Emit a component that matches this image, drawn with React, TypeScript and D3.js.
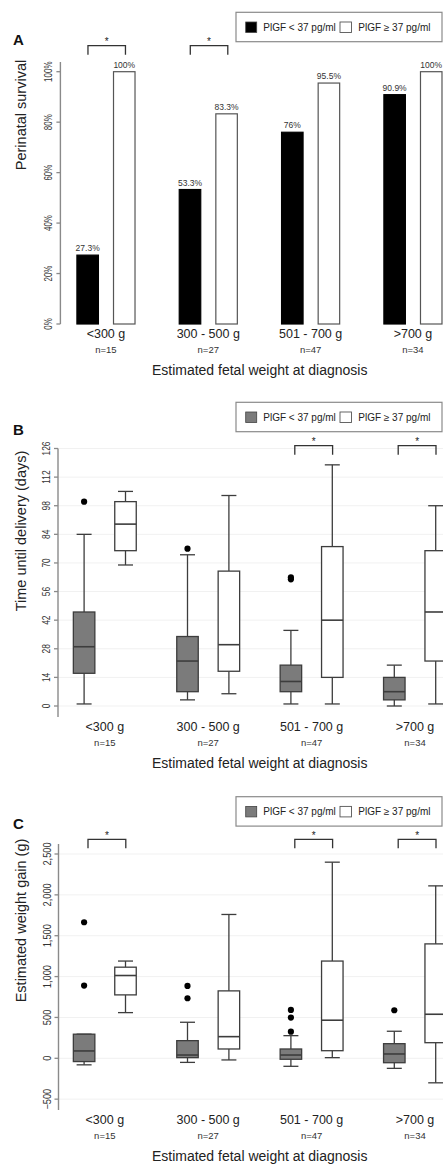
import React from 'react';
import * as d3 from 'd3';

// Shared categories
const categories = ['<300 g', '300 - 500 g', '501 - 700 g', '>700 g'];
const groupSizes = ['n=15', 'n=27', 'n=47', 'n=34'];
const series = ['low', 'high'];
const legendLabels = ['PlGF < 37 pg/ml', 'PlGF \u2265 37 pg/ml'];
const xTitle = 'Estimated fetal weight at diagnosis';

// Panel A: perinatal survival (%)
const survivalLow = [27.3, 53.3, 76, 90.9];
const survivalHigh = [100, 83.3, 95.5, 100];
const survivalLabels = [['27.3%', '100%'], ['53.3%', '83.3%'], ['76%', '95.5%'], ['90.9%', '100%']];
const survivalSig = [true, true, false, false];
const survivalTicks = [0, 20, 40, 60, 80, 100];

// Panel B: time until delivery (days), [min, q1, median, q3, max]
const deliveryLow = [[1, 16, 29, 46, 84], [3, 7, 22, 34, 74], [1, 7, 12, 20, 37], [0, 3, 7, 14, 20]];
const deliveryLowOut = [[100], [77], [62, 63], []];
const deliveryHigh = [[69, 76, 89, 100, 105], [6, 17, 30, 66, 103], [1, 14, 42, 78, 118], [1, 22, 46, 76, 98]];
const deliveryHighOut = [[], [], [], []];
const deliverySig = [false, false, true, true];
const deliveryTicks = [0, 14, 28, 42, 56, 70, 84, 98, 112, 126];

// Panel C: estimated weight gain (g)
const gainLow = [[-80, -40, 90, 295, 295], [-50, 8, 40, 216, 441], [-98, -12, 40, 114, 277], [-123, -54, 53, 179, 331]];
const gainLowOut = [[890, 1665], [735, 886], [326, 498, 592], [588]];
const gainHigh = [[559, 776, 1013, 1115, 1190], [-20, 114, 265, 825, 1760], [8, 93, 466, 1190, 2400], [-300, 191, 539, 1400, 2110]];
const gainHighOut = [[], [], [], []];
const gainSig = [true, false, true, true];
const gainTicks = [-500, 0, 500, 1000, 1500, 2000, 2500];

const FONT = '"Liberation Sans", Arial, Helvetica, sans-serif';
const GRAY = '#7b7b7b';
const LINE = '#3d3d3d';
const AXIS = '#8a8a8a';

function YAxis({ y, ticks, fmt, axisX, extent, sx, grid }) {
  return (
    <g>
      {grid && ticks.map(t => (
        <line key={'g' + t} x1={axisX} x2={443} y1={y(t)} y2={y(t)} stroke="#f1f1f1" strokeWidth={1} />
      ))}
      <line x1={axisX} x2={axisX} y1={y(extent[0])} y2={y(extent[1])} stroke={AXIS} strokeWidth={1.4} />
      {ticks.map(t => (
        <g key={t}>
          <line x1={axisX - 4} x2={axisX} y1={y(t)} y2={y(t)} stroke={AXIS} strokeWidth={1.3} />
          <text
            transform={`translate(${axisX - 8},${y(t)}) rotate(-90) scale(${sx},1)`}
            textAnchor="middle" fontSize={10.5} fill="#333">{fmt(t)}</text>
        </g>
      ))}
    </g>
  );
}

function Legend({ top, fill }) {
  const h = 29.4;
  const cy = top + h / 2;
  return (
    <g fontSize={10} fill="#222">
      <rect x={236} y={top} width={206} height={h} fill="#fff" stroke={AXIS} strokeWidth={1.2} />
      <rect x={245.7} y={cy - 5} width={11} height={10.5} fill={fill} stroke="#444" strokeWidth={0.8} />
      <text x={263.3} y={cy} dy="0.35em">{legendLabels[0]}</text>
      <rect x={340} y={cy - 5} width={11.5} height={10.5} fill="#fff" stroke="#555" strokeWidth={0.9} />
      <text x={358.3} y={cy} dy="0.35em">{legendLabels[1]}</text>
    </g>
  );
}

function Bracket({ x1, x2, top }) {
  return (
    <g>
      <path d={`M${x1},${top + 9} V${top} H${x2} V${top + 9}`} fill="none" stroke="#333" strokeWidth={1.3} />
      <text x={(x1 + x2) / 2} y={top - 0.3} textAnchor="middle" fontSize={10} fill="#222">*</text>
    </g>
  );
}

function XLabels({ x, bottom }) {
  return (
    <g fill="#222">
      {categories.map((c, i) => (
        <g key={c}>
          <text x={x(c)} y={bottom + 10} dy="0.35em" textAnchor="middle" fontSize={12.5}>{c}</text>
          <text x={x(c)} y={bottom + 25.5} dy="0.35em" textAnchor="middle" fontSize={9.5} fill="#333">{groupSizes[i]}</text>
        </g>
      ))}
      <text x={259.7} y={bottom + 46.5} dy="0.35em" textAnchor="middle" fontSize={14}>{xTitle}</text>
    </g>
  );
}

function Box({ cx, s, y, fill, outliers }) {
  const bw = 21.5, cw = 15;
  const [mn, q1, md, q3, mx] = s;
  return (
    <g stroke={LINE} strokeWidth={1.3}>
      <line x1={cx} x2={cx} y1={y(q3)} y2={y(mx)} />
      <line x1={cx} x2={cx} y1={y(q1)} y2={y(mn)} />
      <line x1={cx - cw / 2} x2={cx + cw / 2} y1={y(mx)} y2={y(mx)} />
      <line x1={cx - cw / 2} x2={cx + cw / 2} y1={y(mn)} y2={y(mn)} />
      <rect x={cx - bw / 2} y={y(q3)} width={bw} height={y(q1) - y(q3)} fill={fill} />
      <line x1={cx - bw / 2} x2={cx + bw / 2} y1={y(md)} y2={y(md)} strokeWidth={1.6} />
      {outliers.map((o, k) => (
        <circle key={k} cx={cx} cy={y(o)} r={3.1} fill="#000" stroke="none" />
      ))}
    </g>
  );
}

function PanelA() {
  const x = d3.scaleBand().domain(categories).range([54.8, 464.1]);
  const sub = d3.scalePoint().domain(series).range([-18.3, 18.3]);
  const y = d3.scaleLinear().domain([0, 100]).range([324, 71.7]);
  const bw = 21.5;
  const c = (cat) => x(cat) + x.bandwidth() / 2;
  return (
    <g>
      <text x={13} y={45} fontSize={15} fontWeight="bold" fill="#111">A</text>
      <Legend top={12.3} fill="#000" />
      <text transform="translate(25.5,115) rotate(-90)" textAnchor="middle" fontSize={14.5} fill="#222">Perinatal survival</text>
      <YAxis y={y} ticks={survivalTicks} fmt={d => d + '%'} axisX={60.4} extent={[0, 103.8]} sx={0.76} grid={false} />
      {categories.map((cat, i) => {
        const vals = [survivalLow[i], survivalHigh[i]];
        return (
          <g key={cat}>
            {series.map((s, j) => {
              const bx = c(cat) + sub(s);
              return (
                <g key={s}>
                  <rect x={bx - bw / 2} y={y(vals[j])} width={bw} height={y(0) - y(vals[j])}
                    fill={j === 0 ? '#000' : '#fff'} stroke={j === 0 ? '#000' : '#555'} strokeWidth={1.2} />
                  <text x={bx} y={y(vals[j]) - 4} textAnchor="middle" fontSize={8.5} fill="#333">{survivalLabels[i][j]}</text>
                </g>
              );
            })}
            {survivalSig[i] && <Bracket x1={c(cat) - 18} x2={c(cat) + 19.5} top={45.7} />}
          </g>
        );
      })}
      <XLabels x={c} bottom={324} />
    </g>
  );
}

function BoxPanel({ letter, letterY, legendTop, ylabel, ylabelY, scale, ticks, fmt, extent, sx, axisX, low, lowOut, high, highOut, sig, bracketTop }) {
  const x = d3.scaleBand().domain(categories).range([53.1, 466.7]);
  const sub = d3.scalePoint().domain(series).range([-20.7, 20.7]);
  const c = (cat) => x(cat) + x.bandwidth() / 2;
  const y = scale;
  return (
    <g>
      <text x={13} y={letterY} fontSize={15} fontWeight="bold" fill="#111">{letter}</text>
      <Legend top={legendTop} fill={GRAY} />
      <text transform={`translate(26,${ylabelY}) rotate(-90)`} textAnchor="middle" fontSize={14.5} fill="#222">{ylabel}</text>
      <YAxis y={y} ticks={ticks} fmt={fmt} axisX={axisX} extent={extent} sx={sx} grid={true} />
      {categories.map((cat, i) => (
        <g key={cat}>
          <Box cx={c(cat) + sub('low')} s={low[i]} y={y} fill={GRAY} outliers={lowOut[i]} />
          <Box cx={c(cat) + sub('high')} s={high[i]} y={y} fill="#fff" outliers={highOut[i]} />
          {sig[i] && <Bracket x1={c(cat) - 16.8} x2={c(cat) + 21} top={bracketTop} />}
        </g>
      ))}
      <XLabels x={c} bottom={y(extent[0])} />
    </g>
  );
}

export default function App() {
  const yB = d3.scaleLinear().domain([0, 126]).range([706, 448.5]);
  const yC = d3.scaleLinear().domain([0, 2500]).range([1058.3, 854]);
  const comma = d3.format(',');
  return (
    <div style={{ position: 'absolute', left: 0, top: 0, width: 443, height: 1165, overflow: 'hidden' }}>
      <svg width={443} height={1165} style={{ display: 'block', background: '#fff' }} fontFamily={FONT}>
        <rect width={443} height={1165} fill="#fff" />
        <PanelA />
        <BoxPanel letter="B" letterY={435} legendTop={402.3} ylabel="Time until delivery (days)" ylabelY={531}
          scale={yB} ticks={deliveryTicks} fmt={d => String(d)} extent={[-5.4, 126]} sx={0.8} axisX={58}
          low={deliveryLow} lowOut={deliveryLowOut} high={deliveryHigh} highOut={deliveryHighOut}
          sig={deliverySig} bracketTop={445.7} />
        <BoxPanel letter="C" letterY={829} legendTop={796.7} ylabel="Estimated weight gain (g)" ylabelY={920.5}
          scale={yC} ticks={gainTicks} fmt={d => comma(d)} extent={[-633, 2622]} sx={0.88} axisX={58.5}
          low={gainLow} lowOut={gainLowOut} high={gainHigh} highOut={gainHighOut}
          sig={gainSig} bracketTop={839.3} />
      </svg>
    </div>
  );
}
